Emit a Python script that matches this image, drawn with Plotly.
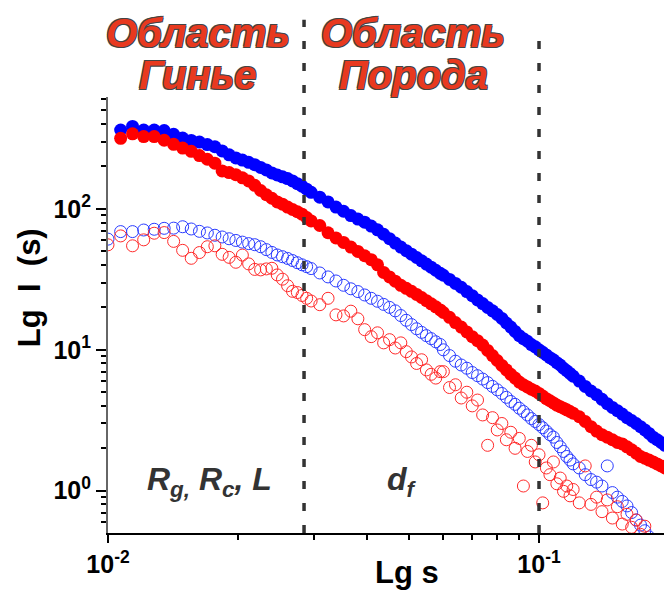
import plotly.graph_objects as go

# scattering vector s (shared grid)
S = [0.0100, 0.0107, 0.0114, 0.0121, 0.0128, 0.0135, 0.0142, 0.0149, 0.0156, 0.0163,
     0.0170, 0.0177, 0.0184, 0.0191, 0.0198, 0.0205, 0.0212, 0.0219, 0.0226, 0.0233,
     0.0240, 0.0247, 0.0254, 0.0261, 0.0268, 0.0275, 0.0282, 0.0289, 0.0296,
     0.0310, 0.0324, 0.0338, 0.0352, 0.0366, 0.0380, 0.0394, 0.0408, 0.0422, 0.0436,
     0.0450, 0.0464, 0.0478, 0.0492, 0.0506, 0.0520, 0.0534, 0.0548, 0.0562, 0.0576, 0.0590,
     0.060, 0.062, 0.064, 0.066, 0.068, 0.070, 0.072, 0.074, 0.076, 0.078,
     0.080, 0.082, 0.084, 0.086, 0.088, 0.090, 0.092, 0.094, 0.096, 0.098,
     0.100, 0.102, 0.104, 0.106, 0.108, 0.110, 0.112, 0.114, 0.116, 0.118, 0.120,
     0.124, 0.128, 0.132, 0.136, 0.140, 0.144, 0.148, 0.152, 0.156, 0.160,
     0.164, 0.168, 0.172, 0.176, 0.180, 0.184, 0.188, 0.192, 0.196]

blue_filled = [None, 363, 385, 363, 363, 360, 338, 318, 306, 298, 286, 276, 258, 242, 230,
               222, 214, 206, 197, 189, 180, 174, 169, 164, 158, 151, 145, 138, 131,
               121, 112, 103, 96.2, 89.7, 84.7, 80.5, 75.5, 71.0, 66.1, 61.5, 57.2, 53.6,
               50.5, 47.7, 45.2, 42.8, 40.6, 38.6, 36.7, 34.9,
               33.8, 31.6, 29.6, 27.8, 25.9, 24.2, 22.6, 21.3, 20.0, 18.9,
               17.8, 16.7, 15.5, 14.5, 13.5, 12.6, 12.0, 11.5, 10.9, 10.5,
               10.0, 9.6, 9.2, 8.8, 8.5, 8.1, 7.8, 7.4, 7.1, 6.8, 6.5,
               6.0, 5.5, 5.1, 4.8, 4.45, 4.15, 3.9, 3.7, 3.5, 3.3,
               3.15, 3.0, 2.85, 2.7, 2.55, 2.4, 2.3, 2.2, 2.1]

red_filled = [None, 317, 341, 326, 326, 307, 287, 270, 256, 239, 225, 211, 186, 181, 175,
              166, 158, 147, 135, 126, 119, 112, 108, 103, 99, 95.4, 91.7, 86.8, 82.1,
              76.2, 67.7, 62.2, 57.8, 53.6, 49.9, 46.5, 43.6, 40.1, 35.4, 32.9, 30.7, 28.7,
              27.3, 26.0, 24.7, 23.5, 22.3, 21.2, 20.2, 19.2,
              18.4, 17.0, 15.6, 14.5, 13.4, 12.4, 11.6, 10.8, 9.9, 9.1,
              8.4, 7.75, 7.2, 6.7, 6.3, 5.9, 5.65, 5.45, 5.25, 5.1,
              4.9, 4.7, 4.5, 4.35, 4.2, 4.05, 3.95, 3.85, 3.75, 3.65, 3.55,
              3.35, 3.1, 2.85, 2.65, 2.5, 2.4, 2.3, 2.2, 2.15, 2.05,
              1.95, 1.85, 1.75, 1.7, 1.65, 1.6, 1.55, 1.5, 1.45]

blue_open = [61, 69, 69, 70.8, 71.7, 72.8, 73, 74.7, 72, 69.3, 67.5, 65, 63.2, 61.4, 59.7,
             58.1, 56.7, 55.7, 53.9, 51.4, 49.1, 47.1, 45.8, 44.5, 43, 41.5, 40.1, 38.9, 37.7,
             35.1, 32.9, 30.8, 28.7, 27.1, 25.9, 24.5, 23.2, 22.1, 21, 20, 18.9, 17.5, 16.2,
             15.1, 14.1, 13.3, 12.6, 12, 11.4, 10.9,
             10.0, 9.1, 8.3, 7.8, 7.4, 6.9, 6.55, 6.2, 5.85, 5.5,
             5.2, 4.9, 4.6, 4.3, 4.1, 3.85, 3.65, 3.45, 3.25, 3.1,
             2.95, 2.8, 2.65, 2.5, 2.4, 2.2, 2.05, 1.9, 1.75, 1.65, 1.55,
             1.45, 1.3, 1.2, 1.15, 1.08, 1.5, 0.97, 0.9, 0.84, 0.78,
             0.7, 0.62, 0.57, 0.52, 0.47, 0.44, 0.41, 0.39, 0.37]

red_open = [55.6, 64.3, 54.7, 60.3, 67.2, 67.9, 58.8, 50.8, 44.6, 49, 53.9, 54.7, 47.6, 45.3,
            41.8, 47, 40.7, 37.2, 36.9, 37.5, 37.9, 34, 31.7, 28.5, 26, 25.5, 24.3, 23.2, 22.2,
            20.9, 23.2, 17.7, 17.4, 18.8, 16.6, 13.9, 12.4, 13.2, 11.2, 11.8, 10.3, 11.2, 9.7,
            8.9, 8.0, 8.5, 7.2, 6.7, 6.3, 7.0,
            7.0, 5.4, 5.65, 4.55, 5.0, 4.0, 4.4, 3.45, 2.1, 3.3,
            2.7, 3.0, 2.3, 2.6, 2.0, 2.35, 1.08, 1.9, 2.1, 1.6,
            1.8, 0.82, 1.45, 1.3, 1.6, 1.12, 1.23, 0.99, 1.08, 0.92, 1.02,
            0.82, 1.5, 0.8, 0.9, 0.71, 0.86, 0.64, 0.77, 0.58, 0.68,
            0.55, 0.62, 0.49, 0.56, 0.45, 0.42, 0.40, 0.38, 0.36]

region_bounds = [0.0285, 0.1]

x_tickvals = [0.01, 0.1]
x_ticktext = ["10<sup>-2</sup>", "10<sup>-1</sup>"]
y_tickvals = [1, 10, 100]
y_ticktext = ["10<sup>0</sup>", "10<sup>1</sup>", "10<sup>2</sup>"]

FONT = "Liberation Sans, Arial, sans-serif"

fig = go.Figure()
fig.add_trace(go.Scatter(x=S, y=blue_filled, mode="markers",
                         marker=dict(color="#0000ff", size=13, line=dict(width=0))))
fig.add_trace(go.Scatter(x=S, y=red_filled, mode="markers",
                         marker=dict(color="#ff0000", size=13, line=dict(width=0))))
fig.add_trace(go.Scatter(x=S, y=blue_open, mode="markers",
                         marker=dict(symbol="circle-open", color="#2a3cff", size=12,
                                     line=dict(width=1))))
fig.add_trace(go.Scatter(x=S, y=red_open, mode="markers",
                         marker=dict(symbol="circle-open", color="#ff2a2a", size=12,
                                     line=dict(width=1))))

for i, xb in enumerate(region_bounds):
    fig.add_shape(type="line", xref="x", yref="paper", x0=xb, x1=xb, y0=0,
                  y1=[1.177, 1.158][i],
                  line=dict(color="#333333", width=3.5, dash="8px,14px"))

outline = ("-1px -1px 0 #444, 1px -1px 0 #444, -1px 1px 0 #444, 1px 1px 0 #444")
title_font = dict(family=FONT, size=40, color="#e8391f", weight="bold",
                  style="italic", shadow=outline)
for txt, x, y in [("Область", 0.162, 1.147), ("Гинье", 0.162, 1.050),
                  ("Область", 0.549, 1.147), ("Порода", 0.549, 1.050)]:
    fig.add_annotation(text=txt, x=x, y=y, xref="paper", yref="paper",
                       showarrow=False, font=title_font, xanchor="center",
                       yanchor="middle")

lab_font = dict(family=FONT, size=32, color="#333333", weight="bold", style="italic")
fig.add_annotation(text="R<sub>g,</sub> R<sub>c</sub>, L", x=0.182, y=0.117,
                   xref="paper", yref="paper", showarrow=False, font=lab_font,
                   xanchor="center", yanchor="middle")
fig.add_annotation(text="d<sub>f</sub>", x=0.529, y=0.117,
                   xref="paper", yref="paper", showarrow=False, font=lab_font,
                   xanchor="center", yanchor="middle")

ax_font = dict(family=FONT, size=31, color="black", weight="bold")
fig.add_annotation(text="Lg&nbsp;&nbsp;I&nbsp;&nbsp;(s)", x=-0.140, y=0.562,
                   xref="paper", yref="paper", textangle=-90, showarrow=False,
                   font=ax_font, xanchor="center", yanchor="middle")
fig.add_annotation(text="Lg s", x=0.538, y=-0.091, xref="paper", yref="paper",
                   showarrow=False, font=ax_font, xanchor="center", yanchor="middle")

tick_font = dict(family=FONT, size=25, color="black", weight="bold")
fig.update_xaxes(type="log", range=[-2, -0.710], tickmode="array",
                 tickvals=x_tickvals, ticktext=x_ticktext,
                 showgrid=False, zeroline=False, showline=True, linecolor="black",
                 linewidth=2, ticks="outside", ticklen=8, tickwidth=2, tickcolor="black",
                 tickfont=tick_font,
                 minor=dict(ticks="outside", ticklen=5, tickwidth=1.5, tickcolor="black",
                            dtick="D1", showgrid=False))
fig.update_yaxes(type="log", range=[-0.300, 2.794], tickmode="array",
                 tickvals=y_tickvals, ticktext=y_ticktext,
                 showgrid=False, zeroline=False, showline=True, linecolor="#666666",
                 linewidth=2, ticks="outside", ticklen=10, tickwidth=2, tickcolor="black",
                 tickfont=tick_font,
                 minor=dict(ticks="outside", ticklen=5, tickwidth=1.5, tickcolor="black",
                            dtick="D1", showgrid=False))

fig.update_layout(width=664, height=592, showlegend=False,
                  margin=dict(l=108, r=0, t=97, b=59),
                  paper_bgcolor="white", plot_bgcolor="white")

fig.write_html("out.html")
